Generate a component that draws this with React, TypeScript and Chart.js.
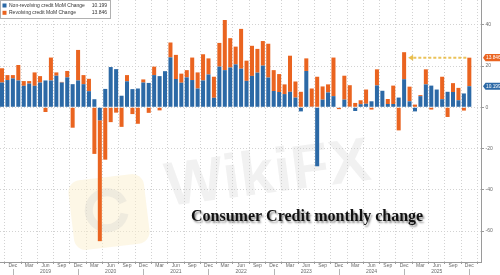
import { useEffect, useRef } from 'react';
import { Chart, registerables } from 'chart.js';

Chart.register(...registerables);

// ---------- data ----------
const categories: string[] = [
  'Oct 2018', 'Nov 2018', 'Dec 2018',
  'Jan 2019', 'Feb 2019', 'Mar 2019', 'Apr 2019', 'May 2019', 'Jun 2019', 'Jul 2019', 'Aug 2019', 'Sep 2019', 'Oct 2019', 'Nov 2019', 'Dec 2019',
  'Jan 2020', 'Feb 2020', 'Mar 2020', 'Apr 2020', 'May 2020', 'Jun 2020', 'Jul 2020', 'Aug 2020', 'Sep 2020', 'Oct 2020', 'Nov 2020', 'Dec 2020',
  'Jan 2021', 'Feb 2021', 'Mar 2021', 'Apr 2021', 'May 2021', 'Jun 2021', 'Jul 2021', 'Aug 2021', 'Sep 2021', 'Oct 2021', 'Nov 2021', 'Dec 2021',
  'Jan 2022', 'Feb 2022', 'Mar 2022', 'Apr 2022', 'May 2022', 'Jun 2022', 'Jul 2022', 'Aug 2022', 'Sep 2022', 'Oct 2022', 'Nov 2022', 'Dec 2022',
  'Jan 2023', 'Feb 2023', 'Mar 2023', 'Apr 2023', 'May 2023', 'Jun 2023', 'Jul 2023', 'Aug 2023', 'Sep 2023', 'Oct 2023', 'Nov 2023', 'Dec 2023',
  'Jan 2024', 'Feb 2024', 'Mar 2024', 'Apr 2024', 'May 2024', 'Jun 2024', 'Jul 2024', 'Aug 2024', 'Sep 2024', 'Oct 2024', 'Nov 2024', 'Dec 2024',
  'Jan 2025', 'Feb 2025', 'Mar 2025', 'Apr 2025', 'May 2025', 'Jun 2025', 'Jul 2025', 'Aug 2025', 'Sep 2025', 'Oct 2025', 'Nov 2025', 'Dec 2025',
];

const nonRevolving: number[] = [
  12.0, 13.2, 14.0,
  13.0, 10.4, 11.5, 10.4, 12.0, 13.0, 13.0, 15.3, 12.0, 14.5, 11.2, 13.0,
  11.2, 7.8, 3.9, -6.3, 8.9, 19.5, 18.5, 5.6, 12.6, 8.8, 9.1, 12.0,
  11.8, 15.6, 15.1, 17.5, 24.2, 13.7, 11.9, 14.5, 13.2, 9.1, 13.0, 15.9,
  4.6, 19.7, 18.0, 19.3, 20.8, 18.7, 12.8, 15.2, 16.8, 20.2, 14.4, 7.9,
  7.4, 6.4, 7.5, 4.7, -2.0, 17.6, 0.3, -28.6, 3.7, 7.2, 5.4, -0.3,
  3.7, 0.3, -1.8, 1.5, 1.7, 2.9, 10.6, 8.0, 1.6, 1.6, 4.7, 13.6,
  2.9, -2.0, 5.4, 11.1, 10.5, 8.6, 3.9, 7.5, 7.4, 3.4, 6.7, 10.199,
];

const revolving: number[] = [
  6.9, 2.4, 1.6,
  7.5, 2.3, 1.2, 6.5, 3.1, -2.3, 11.1, 1.6, 0.3, 3.1, -9.9, 14.8,
  4.4, 6.0, -22.6, -58.6, -25.4, -7.2, -2.6, -9.5, 3.0, -3.3, -8.0, 1.5,
  -2.7, 4.1, -1.5, 0.0, 7.2, 11.7, 4.4, 3.5, 10.9, 7.8, 12.7, 7.8,
  10.2, 11.5, 24.3, 14.2, 8.6, 19.3, 9.8, 14.6, 11.5, 11.9, 16.4, 10.1,
  8.7, 4.7, 17.5, 7.8, 7.5, 6.1, 8.8, 14.8, 6.4, 3.9, 18.7, -0.6,
  11.6, 10.4, 2.1, 1.9, 6.9, -1.1, 7.8, 0.0, 2.4, 8.9, -11.2, 13.1,
  7.1, 1.3, 0.5, 7.3, -1.1, 0.0, 10.9, -4.7, 4.3, 6.0, -1.6, 13.846,
];

const seriesNames: string[] = ['Non-revolving credit MoM Change', 'Revolving credit MoM Change'];
const lastLabels: string[] = ['10.199', '13.846'];
const tickMonths: string[] = ['Mar', 'Jun', 'Sep', 'Dec'];
const yearMonth = 'Jun';
const yTickValues: number[] = [-60, -40, -20, 0, 20, 40];
const arrowFrom = 'Dec 2025';
const arrowTo = 'Dec 2024';
const titleText = 'Consumer Credit monthly change';
const watermarkText = 'WikiFX';

// ---------- styles ----------
const BLUE = '#2c69a6';
const ORANGE = '#ea6420';
const GRID = '#d2d2d2';
const AXIS = '#9a9a9a';
const TICK_TXT = '#6a6a6a';
const SANS = '"Liberation Sans", Arial, sans-serif';

const quarterIdx = categories
  .map((c, i) => (tickMonths.includes(c.split(' ')[0]) ? i : -1))
  .filter((i) => i >= 0);

const decorPlugin = {
  id: 'decor',
  beforeDatasetsDraw(chart: any) {
    const { ctx } = chart;
    ctx.save();
    // logo square (watermark)
    ctx.translate(109, 212);
    ctx.rotate(-0.12);
    ctx.fillStyle = 'rgba(252,240,205,0.5)';
    const w = 76, h = 70, r = 12;
    ctx.beginPath();
    ctx.moveTo(-w / 2 + r, -h / 2);
    ctx.arcTo(w / 2, -h / 2, w / 2, h / 2, r);
    ctx.arcTo(w / 2, h / 2, -w / 2, h / 2, r);
    ctx.arcTo(-w / 2, h / 2, -w / 2, -h / 2, r);
    ctx.arcTo(-w / 2, -h / 2, w / 2, -h / 2, r);
    ctx.closePath();
    ctx.fill();
    ctx.strokeStyle = 'rgba(200,200,200,0.25)';
    ctx.lineWidth = 8;
    ctx.beginPath();
    ctx.arc(-2, -2, 18, 0.3, Math.PI * 1.9);
    ctx.stroke();
    ctx.restore();

    // watermark text
    ctx.save();
    ctx.translate(168, 206);
    ctx.rotate(-0.13);
    ctx.font = `bold 62px ${SANS}`;
    ctx.fillStyle = 'rgba(200,200,200,0.26)';
    ctx.textBaseline = 'alphabetic';
    ctx.fillText(watermarkText, 0, 0);
    ctx.restore();
  },
  afterDraw(chart: any) {
    const { ctx, chartArea } = chart;
    const xs = chart.scales.x;
    const ys = chart.scales.y;
    const last = categories.length - 1;

    // year separators below axis
    ctx.save();
    ctx.strokeStyle = '#b5b5b5';
    ctx.lineWidth = 1;
    categories.forEach((c, i) => {
      if (c.startsWith('Dec')) {
        const x = Math.round(xs.getPixelForValue(i)) + 0.5;
        ctx.beginPath();
        ctx.moveTo(x, chartArea.bottom + 7);
        ctx.lineTo(x, chart.height);
        ctx.stroke();
      }
    });
    ctx.restore();

    // dashed arrow
    const iFrom = categories.indexOf(arrowFrom);
    const iTo = categories.indexOf(arrowTo);
    const yA = ys.getPixelForValue(nonRevolving[iFrom] + revolving[iFrom]);
    const xStart = xs.getPixelForValue(iFrom) - 3;
    const xEnd = xs.getPixelForValue(iTo) + 4;
    ctx.save();
    ctx.strokeStyle = 'rgba(232,184,60,0.85)';
    ctx.lineWidth = 2;
    ctx.setLineDash([3, 2]);
    ctx.beginPath();
    ctx.moveTo(xStart, yA);
    ctx.lineTo(xEnd + 4, yA);
    ctx.stroke();
    ctx.setLineDash([]);
    ctx.fillStyle = 'rgba(232,184,60,0.9)';
    ctx.beginPath();
    ctx.moveTo(xEnd, yA);
    ctx.lineTo(xEnd + 5, yA - 3);
    ctx.lineTo(xEnd + 5, yA + 3);
    ctx.closePath();
    ctx.fill();
    ctx.restore();

    // right-side value tags
    const tag = (y: number, color: string, text: string) => {
      const x0 = chartArea.right + 2;
      const x1 = chart.width;
      const hh = 3.6;
      ctx.save();
      ctx.fillStyle = color;
      ctx.beginPath();
      ctx.moveTo(x0, y);
      ctx.lineTo(x0 + 2.5, y - hh);
      ctx.lineTo(x1, y - hh);
      ctx.lineTo(x1, y + hh);
      ctx.lineTo(x0 + 2.5, y + hh);
      ctx.closePath();
      ctx.fill();
      ctx.fillStyle = '#ffffff';
      ctx.font = `4.8px ${SANS}`;
      ctx.textBaseline = 'middle';
      ctx.textAlign = 'left';
      ctx.fillText(text, x0 + 3, y + 0.3);
      ctx.restore();
    };
    tag(ys.getPixelForValue(nonRevolving[last] + revolving[last]), ORANGE, lastLabels[1]);
    tag(ys.getPixelForValue(nonRevolving[last]), BLUE, lastLabels[0]);

    // legend box
    ctx.save();
    ctx.fillStyle = '#ffffff';
    ctx.fillRect(0, 0, 110, 18);
    ctx.strokeStyle = '#b0b0b0';
    ctx.lineWidth = 1;
    ctx.strokeRect(0.5, 0.5, 110, 18);
    const colors = [BLUE, ORANGE];
    ctx.font = `5px ${SANS}`;
    ctx.textBaseline = 'middle';
    seriesNames.forEach((name, k) => {
      const y = 5.5 + k * 7.3;
      ctx.fillStyle = colors[k];
      ctx.fillRect(2.5, y - 2, 4, 4);
      ctx.fillStyle = '#333333';
      ctx.textAlign = 'left';
      ctx.fillText(name, 9, y);
      ctx.textAlign = 'right';
      ctx.fillText(lastLabels[k], 107, y);
    });
    ctx.restore();

    // title
    ctx.save();
    ctx.font = `bold 16px "Liberation Serif", "Times New Roman", serif`;
    ctx.fillStyle = '#111111';
    ctx.shadowColor = 'rgba(0,0,0,0.45)';
    ctx.shadowOffsetX = 1.5;
    ctx.shadowOffsetY = 1.5;
    ctx.shadowBlur = 2;
    ctx.textBaseline = 'alphabetic';
    ctx.textAlign = 'left';
    ctx.fillText(titleText, 191, 221);
    ctx.restore();
  },
};

export default function App() {
  const ref = useRef<HTMLCanvasElement>(null);

  useEffect(() => {
    document.body.style.margin = '0';
    const canvas = ref.current;
    if (!canvas) return;
    const chart = new Chart(canvas, {
      type: 'bar',
      data: {
        datasets: [
          {
            label: seriesNames[0],
            data: nonRevolving.map((v, i) => ({ x: i, y: v })),
            backgroundColor: BLUE,
            borderWidth: 0,
            barPercentage: 0.74,
            categoryPercentage: 1,
          },
          {
            label: seriesNames[1],
            data: revolving.map((v, i) => ({ x: i, y: v })),
            backgroundColor: ORANGE,
            borderWidth: 0,
            barPercentage: 0.74,
            categoryPercentage: 1,
          },
        ],
      },
      options: {
        responsive: false,
        animation: false,
        devicePixelRatio: 1,
        layout: { padding: 0 },
        plugins: {
          legend: { display: false },
          tooltip: { enabled: false },
        },
        scales: {
          x: {
            type: 'linear',
            stacked: true,
            offset: false,
            min: -0.37,
            max: 88.15,
            afterBuildTicks: (axis: any) => {
              axis.ticks = quarterIdx.map((i) => ({ value: i }));
            },
            afterFit: (s: any) => {
              s.height = 13;
              s.paddingLeft = 0;
              s.paddingRight = 0;
            },
            ticks: {
              autoSkip: false,
              maxRotation: 0,
              minRotation: 0,
              padding: -1,
              color: TICK_TXT,
              font: { size: 5, family: SANS, lineHeight: 1.1 },
              callback: (v: any) => {
                const c = categories[Math.round(Number(v))];
                if (!c) return '';
                const [mon, yr] = c.split(' ');
                return mon === yearMonth ? [mon, yr] : mon;
              },
            },
            grid: { color: GRID, tickLength: 2, tickColor: AXIS },
            border: { color: AXIS, dash: [1, 2] },
          },
          y: {
            position: 'right',
            stacked: true,
            min: -75,
            max: 52,
            afterBuildTicks: (axis: any) => {
              axis.ticks = yTickValues.map((v) => ({ value: v }));
            },
            afterFit: (s: any) => {
              s.width = 19;
              s.paddingTop = 0;
              s.paddingBottom = 0;
            },
            ticks: {
              padding: 1.5,
              color: TICK_TXT,
              font: { size: 5, family: SANS },
              callback: (v: any) => String(v),
            },
            grid: { color: GRID, tickLength: 3, tickColor: AXIS },
            border: { color: AXIS, dash: [1, 2] },
          },
        },
      },
      plugins: [decorPlugin],
    } as any);
    return () => chart.destroy();
  }, []);

  return (
    <div style={{ width: 500, height: 275, position: 'relative' }}>
      <canvas ref={ref} width={500} height={275} style={{ display: 'block' }} />
    </div>
  );
}
